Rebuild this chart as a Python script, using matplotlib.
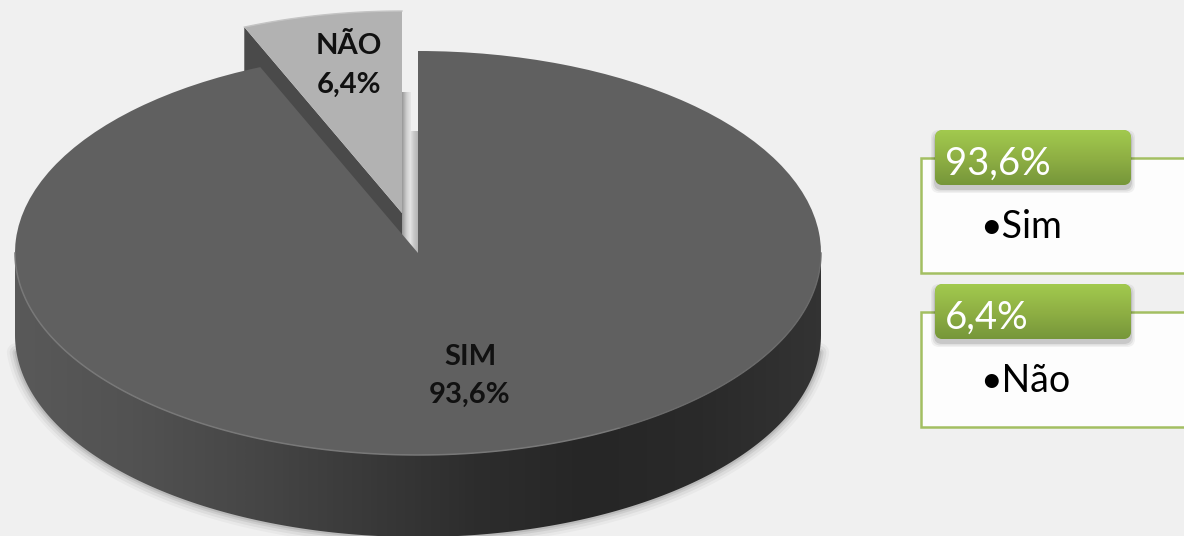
import numpy as np
import matplotlib
matplotlib.use('Agg')
import matplotlib.pyplot as plt
from matplotlib.colors import LinearSegmentedColormap
from matplotlib.patches import Wedge, Polygon, Rectangle, FancyBboxPatch
from matplotlib.transforms import Affine2D

plt.rcParams['font.family'] = ['Lato', 'DejaVu Sans']

categories = ['SIM', 'NÃO']
legend_names = ['Sim', 'Não']
shares = [93.6, 6.4]

BG = '#f0f0f0'
CX, CY = 418, 253  # centre of the pie top, in pixels
RX, RY = 403, 202
DEPTH = 82
EXPLODE = (-16, -40)  # how far the small slice is pulled out


def pct(v):
    return ('%.1f%%' % v).replace('.', ',')


def rim(theta, dx=0, dy=0):
    # point on the top ellipse, theta in degrees, screen y goes down
    t = np.radians(theta)
    return CX + dx + RX * np.cos(t), CY + dy - RY * np.sin(t)


def gradient(ax, extent, colors, clip, horizontal=True, zorder=1):
    cmap = LinearSegmentedColormap.from_list('g', colors)
    arr = np.linspace(0, 1, 256)
    arr = arr.reshape(1, -1) if horizontal else arr.reshape(-1, 1)
    im = ax.imshow(arr, extent=extent, cmap=cmap, aspect='auto', zorder=zorder, interpolation='bilinear')
    if clip is not None:
        im.set_clip_path(clip)
    return im


fig = plt.figure(figsize=(11.84, 5.36), dpi=100, facecolor=BG)
ax = fig.add_axes([0, 0, 1, 1])
ax.set_xlim(0, 1184)
ax.set_ylim(536, 0)
ax.axis('off')

small_start = 90.0
small_end = small_start + shares[1] * 3.6

# side of the big slice
th = np.linspace(180, 360, 200)
x_top, y_top = rim(th)
x_low, y_low = rim(th[::-1], dy=DEPTH)
side_pts = np.column_stack([np.r_[x_top, x_low], np.r_[y_top, y_low]])

# soft shadow under the lower edge only
sx, sy = rim(np.linspace(185, 355, 200), dy=DEPTH)
for lw, a in [(14, 0.03), (10, 0.05), (6, 0.07), (3, 0.09)]:
    ax.plot(sx, sy, color='black', lw=lw, alpha=a, solid_capstyle='round', zorder=1)

side = Polygon(side_pts, closed=True, fc='none', ec='none', zorder=2)
ax.add_patch(side)
gradient(ax, (CX - RX, CX + RX, 536, 200),
         ['#595959', '#525252', '#474747', '#3a3a3a', '#2d2d2d', '#262626', '#2a2a2a', '#333333'],
         side, zorder=2)

# side of the small slice, seen along its left cut
ax_x, ax_y = EXPLODE
lx, ly = rim(small_end, ax_x, ax_y)
ap_x, ap_y = CX + ax_x, CY + ax_y
ax.add_patch(Polygon([(lx, ly), (ap_x, ap_y), (ap_x, ap_y + DEPTH), (lx, ly + DEPTH)],
                     closed=True, fc='#4a4a4a', ec='none', zorder=3))

# soft strips in the gap between the two slices
gradient(ax, (ap_x, ap_x + 9, ap_y + 40, 92), ['#969696', '#cdcdcd', '#e8e8e8'], None, zorder=3)
gradient(ax, (ap_x + 8, CX, CY, 131), ['#e6e6e6', '#c8c8c8', '#b4b4b4'], None, zorder=3.5)

# top faces, angles come straight from the shares
to_px = Affine2D().scale(RX, -RY).translate(CX, CY) + ax.transData
to_px_small = Affine2D().scale(RX, -RY).translate(CX + ax_x, CY + ax_y) + ax.transData
ax.add_patch(Wedge((0, 0), 1, small_start, small_end, fc='#b2b2b2', ec='none', transform=to_px_small, zorder=4))
ax.add_patch(Wedge((0, 0), 1, small_end, small_start + 360, fc='#606060', ec='none', transform=to_px, zorder=5))

# thin lit rim on the front edge
ax.plot(*rim(np.linspace(180, 300, 120)), color='#787878', lw=1.1, zorder=6)
ax.plot(*rim(np.linspace(300, 360, 60)), color='#6a6a6a', lw=1.0, zorder=6)
ax.plot(*rim(np.linspace(small_start, small_end, 40), ax_x, ax_y), color='#c4c4c4', lw=1.0, zorder=6)

# slice labels
ax.text(470, 357, categories[0], ha='center', va='center', fontsize=21, fontweight='bold', color='#111111', zorder=7)
ax.text(470, 395, pct(shares[0]), ha='center', va='center', fontsize=21, fontweight='bold', color='#111111', zorder=7)
ax.text(349, 46, categories[1], ha='center', va='center', fontsize=21, fontweight='bold', color='#111111', zorder=7)
ax.text(349, 85, pct(shares[1]), ha='center', va='center', fontsize=21, fontweight='bold', color='#111111', zorder=7)

# legend cards on the right
for i in range(len(shares)):
    top = 130 + i * 154
    ax.add_patch(Rectangle((921, top + 28), 300, 115, fc='#fdfdfd', ec='#a3bf62', lw=1.8, zorder=2))
    for grow, a in [(4, 0.05), (2.5, 0.07), (1, 0.1)]:
        ax.add_patch(FancyBboxPatch((943 - grow, top + 12 - grow), 180 + 2 * grow, 39 + 2 * grow,
                                    boxstyle='round,pad=8', fc='black', ec='none', alpha=a, zorder=3))
    box = FancyBboxPatch((943, top + 8), 180, 39, boxstyle='round,pad=8', fc='#8cae45', ec='none', zorder=4)
    ax.add_patch(box)
    gradient(ax, (935, 1131, top + 55, top), ['#a2ca4e', '#8fb044', '#76963a'], box, horizontal=False, zorder=4)
    ax.text(945, top + 30, pct(shares[i]), ha='left', va='center_baseline', fontsize=27.5, color='white', zorder=5)
    ax.text(980, top + 93, '•' + legend_names[i], ha='left', va='center_baseline', fontsize=27, color='black', zorder=5)

ax.set_xlim(0, 1184)
ax.set_ylim(536, 0)
fig.savefig('out.png', dpi=100, facecolor=BG)
